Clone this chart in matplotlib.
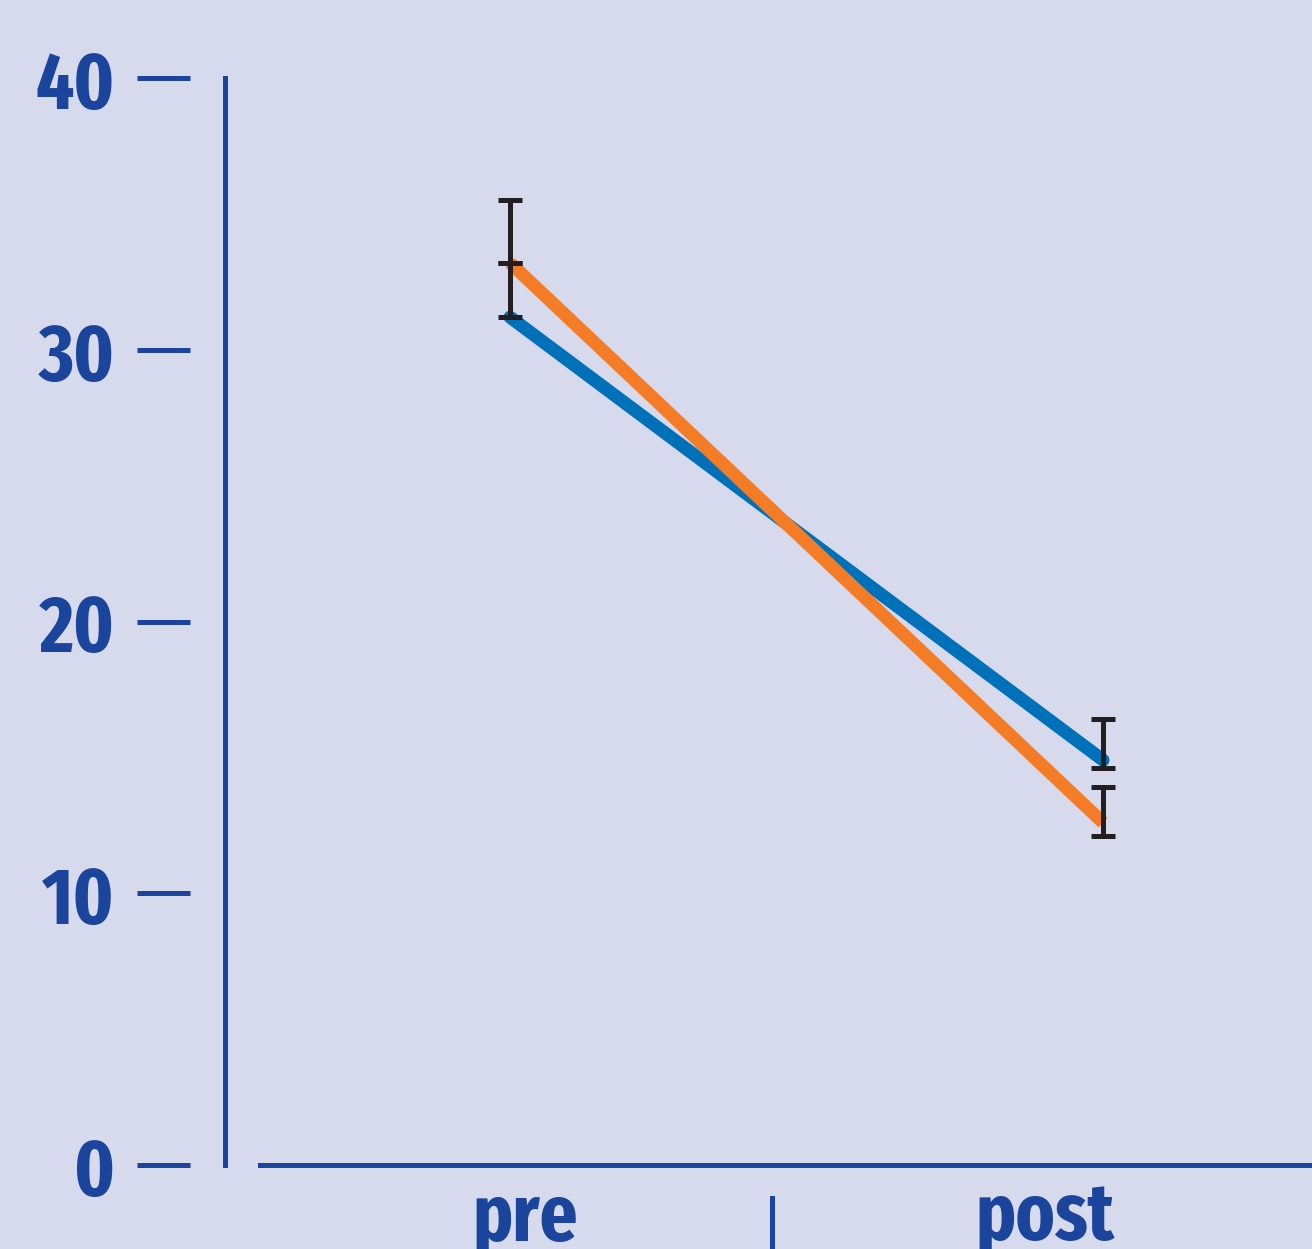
import numpy as np
import matplotlib
matplotlib.use('Agg')
from matplotlib import pyplot as plt

# values
groups = ['pre', 'post']
blue_mean = [31.2, 14.9]
orange_mean = [33.2, 12.6]
# one-sided at "pre", short below / longer above at "post"
blue_err_low = [0.0, 0.3]
blue_err_high = [2.0, 1.5]
orange_err_low = [0.0, 0.5]
orange_err_high = [2.3, 1.3]
yticks = [0, 10, 20, 30, 40]

bg = '#d6daec'
axis_blue = '#1b449c'
line_blue = '#0071b9'
line_orange = '#f47c26'
err_col = '#231f20'

# condensed bold face, DejaVu as fallback
plt.rcParams['font.family'] = ['Fira Sans Extra Condensed', 'DejaVu Sans']
plt.rcParams['font.weight'] = 'bold'

px = 72 / 100  # points per pixel at dpi 100

fig = plt.figure(figsize=(13.12, 12.49), dpi=100, facecolor=bg)
ax = fig.add_axes([260 / 1312, 84 / 1249, 1052 / 1312, 1087 / 1249])
ax.set_facecolor(bg)

x = np.arange(len(groups))

# lines, orange drawn over blue
ax.plot(x, blue_mean, color=line_blue, lw=13 * px, solid_capstyle='round', zorder=2)
ax.plot(x, orange_mean, color=line_orange, lw=13 * px, solid_capstyle='butt', zorder=3)

# error bars
for m, lo, hi in [(blue_mean, blue_err_low, blue_err_high),
                  (orange_mean, orange_err_low, orange_err_high)]:
    ax.errorbar(x, m, yerr=[lo, hi], fmt='none', ecolor=err_col,
                elinewidth=5 * px, capsize=12 * px, capthick=5 * px, zorder=4)

ax.set_xlim(-0.4216, 1.3524)
ax.set_ylim(0, 40)

for s in ['top', 'right']:
    ax.spines[s].set_visible(False)
ax.spines['bottom'].set_color(axis_blue)
ax.spines['bottom'].set_linewidth(5 * px)

# left spine pushed out so the tick dashes float, real axis line drawn on its own
ax.spines['left'].set_position(('outward', 70 * px))
ax.spines['left'].set_visible(False)
ax.axvline(-0.4806, ymin=0, ymax=1, color=axis_blue, lw=5 * px, clip_on=False)

ax.set_yticks(yticks)
ax.set_yticklabels([str(t) for t in yticks])
ax.tick_params(axis='y', direction='out', length=53 * px, width=5 * px,
               color=axis_blue, pad=22 * px, labelsize=58, labelcolor=axis_blue)

# category labels, a small divider tick between them
ax.set_xticks([0.0253, 0.902])
ax.set_xticklabels(groups)
ax.tick_params(axis='x', length=0, pad=10, labelsize=58, labelcolor=axis_blue)
ax.plot([0.4418, 0.4418], [-0.0304, -0.08], color=axis_blue, lw=5 * px,
        transform=ax.get_xaxis_transform(), clip_on=False)

fig.savefig('out.png', dpi=100, facecolor=bg)
